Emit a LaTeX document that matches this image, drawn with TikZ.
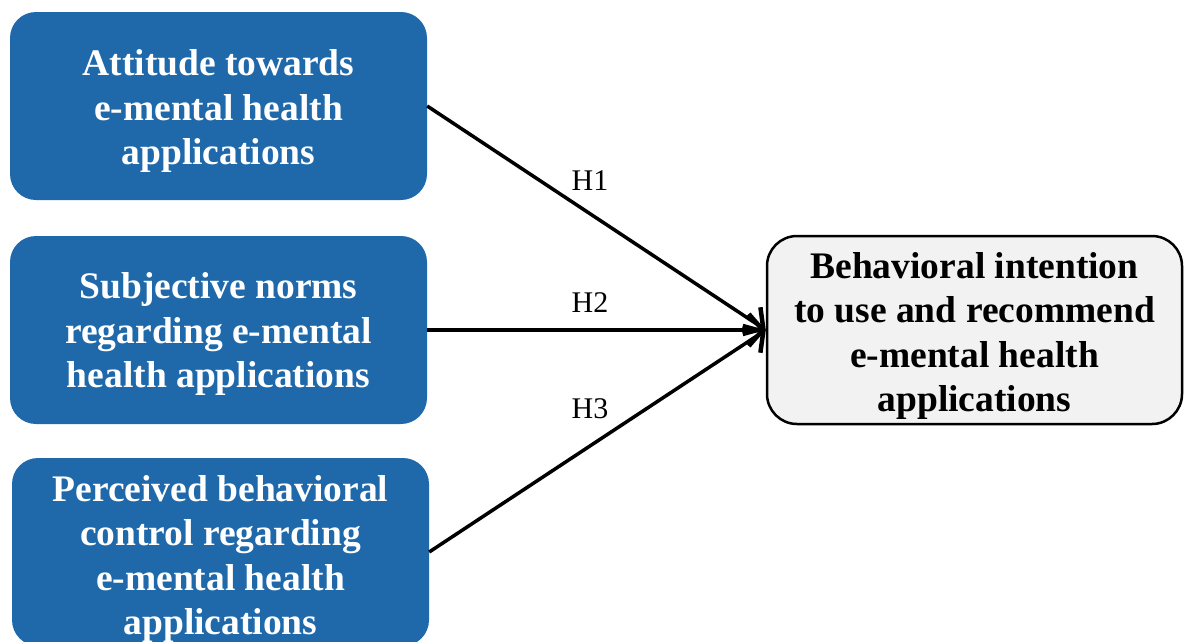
\documentclass[tikz,border=0pt]{standalone}
\usepackage{fontspec}
\setmainfont{Liberation Serif}
\usetikzlibrary{arrows.meta}
\definecolor{boxblue}{RGB}{31,105,170}
\definecolor{boxgray}{RGB}{242,242,242}
\begin{document}
\begin{tikzpicture}[x=1pt,y=1pt,
  construct/.style={rectangle, rounded corners=26pt, fill=boxblue, draw=none,
    minimum width=417pt, minimum height=188pt, inner sep=0pt},
  outcome/.style={rectangle, rounded corners=30pt, fill=boxgray, draw=black,
    line width=2.5pt, minimum width=415pt, minimum height=188pt, inner sep=0pt},
  boxtext/.style={align=center, inner sep=0pt,
    font=\fontsize{37.5}{44.5}\selectfont\bfseries},
  path/.style={line width=3.5pt, -{Straight Barb[length=14pt,width=32pt,line width=4.5pt]}},
  hyp/.style={font=\fontsize{30}{36}\selectfont, inner sep=0pt}]
\useasboundingbox (0,0) rectangle (1188,-641);
% boxes
\node[construct] (att) at (218.5,-106) {};
\node[construct] (sn) at (218.5,-330) {};
\node[construct] (pbc) at (220.5,-552) {};
\node[outcome] (bi) at (974.5,-330) {};
% box texts
\node[boxtext, text=white] (attT) at ([yshift=-5pt]att.center) {Attitude towards\\e-mental health\\applications};
\node[boxtext, text=white] (snT) at ([yshift=-4pt]sn.center) {Subjective norms\\regarding e-mental\\health applications};
\node[boxtext, text=white] (pbcT) at ([yshift=-7pt]pbc.center) {Perceived behavioral\\control regarding\\e-mental health\\applications};
\node[boxtext, text=black] (biT) at ([yshift=-6pt]bi.center) {Behavioral intention\\to use and recommend\\e-mental health\\applications};
% hypotheses
\draw[path] (att.east) -- (bi.west);
\draw[path] (sn.east) -- (bi.west);
\draw[path] (pbc.east) -- (bi.west);
\node[hyp] (h1) at (590,-181) {H1};
\node[hyp] (h2) at (590,-303) {H2};
\node[hyp] (h3) at (590,-409) {H3};
\end{tikzpicture}
\end{document}
